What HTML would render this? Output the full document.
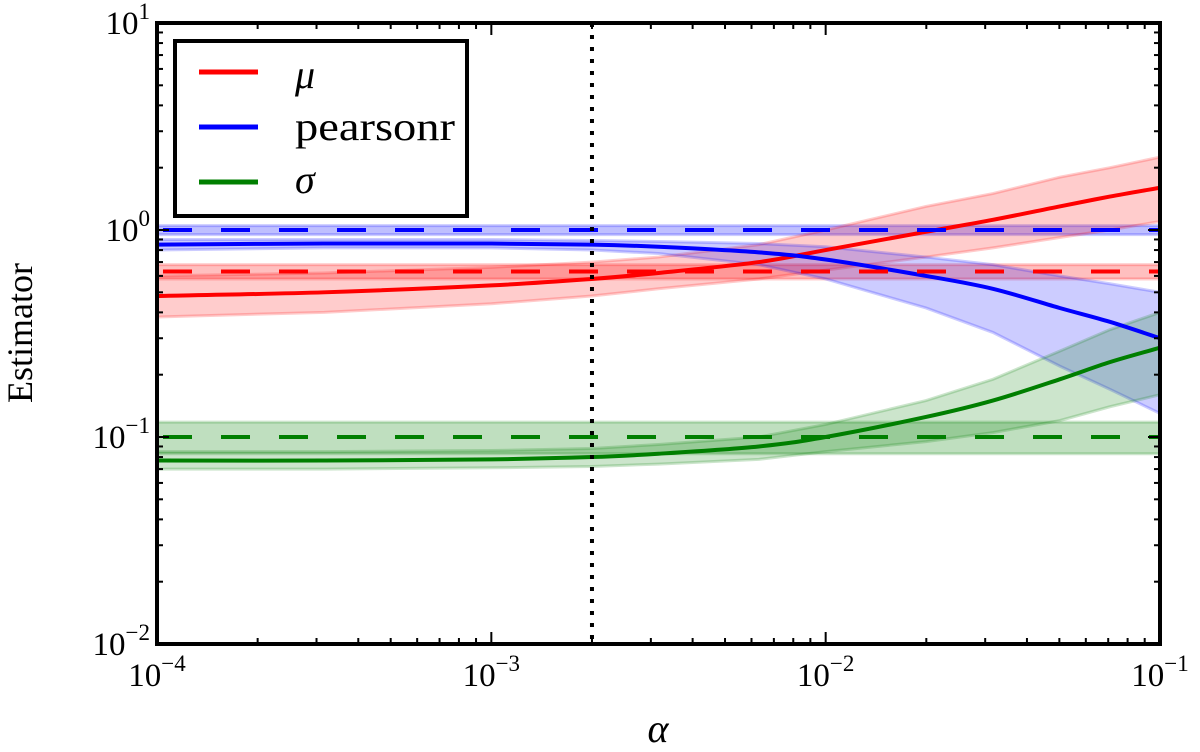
<!DOCTYPE html>
<html><head><meta charset="utf-8"><style>
body{margin:0;background:#fff}
svg text{font-family:"Liberation Serif","DejaVu Serif",serif;fill:#000}
</style></head><body>
<svg id="chart" width="1200" height="747" xmlns="http://www.w3.org/2000/svg">
<defs><clipPath id="clip"><rect x="157" y="23" width="1003" height="621"/></clipPath></defs>
<g id="plot" clip-path="url(#clip)"></g>
<g id="axes"></g>
</svg>
<script>
const logX=[-4,-3.5,-3,-2.7,-2.5,-2.2,-2,-1.7,-1.5,-1.3,-1.15,-1];
const muMid=[0.48,0.5,0.54,0.58,0.62,0.7,0.8,0.98,1.12,1.3,1.45,1.6];
const muLo=[0.38,0.4,0.44,0.48,0.52,0.58,0.64,0.74,0.82,0.92,1.0,1.1];
const muHi=[0.6,0.62,0.66,0.7,0.74,0.85,1.0,1.3,1.5,1.8,2.0,2.25];
const prMid=[0.85,0.86,0.86,0.85,0.83,0.78,0.72,0.6,0.52,0.42,0.36,0.3];
const prLo=[0.8,0.82,0.82,0.8,0.77,0.68,0.58,0.42,0.32,0.22,0.17,0.13];
const prHi=[0.9,0.9,0.9,0.89,0.88,0.86,0.83,0.74,0.68,0.6,0.55,0.5];
const sgMid=[0.077,0.077,0.078,0.08,0.083,0.09,0.1,0.125,0.15,0.19,0.23,0.27];
const sgLo=[0.07,0.07,0.071,0.072,0.074,0.078,0.085,0.095,0.105,0.12,0.14,0.16];
const sgHi=[0.085,0.085,0.086,0.088,0.092,0.1,0.115,0.15,0.19,0.26,0.33,0.4];
const truth=[{v:1.0,lo:0.95,hi:1.05,c:"#0000ff"},{v:0.63,lo:0.58,hi:0.68,c:"#ff0000"},{v:0.1,lo:0.083,hi:0.118,c:"#007f00"}];
const alphaLine=0.002;
const xTicks=[-4,-3,-2,-1];
const yTicks=[-2,-1,0,1];

const X0=157,X1=1160,Y0=23,Y1=644;
const sx=l=>X0+(l+4)/3*(X1-X0);
const sy=v=>Y1-(Math.log10(v)+2)/3*(Y1-Y0);
const NS="http://www.w3.org/2000/svg";
const plot=document.getElementById('plot'),axes=document.getElementById('axes');
function mk(p,t,a){const e=document.createElementNS(NS,t);for(const k in a)e.setAttribute(k,a[k]);p.appendChild(e);return e;}
function smooth(vals){
 const pts=logX.map((l,i)=>[sx(l),sy(vals[i])]);
 let d="M"+pts[0][0]+","+pts[0][1];
 for(let i=0;i<pts.length-1;i++){
  const p0=pts[Math.max(0,i-1)],p1=pts[i],p2=pts[i+1],p3=pts[Math.min(pts.length-1,i+2)];
  const c1=[p1[0]+(p2[0]-p0[0])/6,p1[1]+(p2[1]-p0[1])/6],c2=[p2[0]-(p3[0]-p1[0])/6,p2[1]-(p3[1]-p1[1])/6];
  d+="C"+c1+" "+c2+" "+p2;
 }
 return d;
}
function band(lo,hi,c,name){
 let d="M"+logX.map((l,i)=>sx(l)+","+sy(hi[i])).join("L")+"L"+logX.map((l,i)=>sx(l)+","+sy(lo[i])).reverse().join("L")+"Z";
 const e=mk(plot,"path",{d:d,fill:c,"fill-opacity":0.2,stroke:c,"stroke-opacity":0.2,"stroke-width":3});
 
 
}
function line(vals,c,name){
 const e=mk(plot,"path",{d:smooth(vals),fill:"none",stroke:c,"stroke-width":4});
 
 
}
truth.forEach(t=>{
 const r=mk(plot,"rect",{x:X0,y:sy(t.hi),width:X1-X0,height:sy(t.lo)-sy(t.hi),fill:t.c,"fill-opacity":0.25,stroke:t.c,"stroke-opacity":0.2,"stroke-width":3});
 
 
});
band(muLo,muHi,"#ff0000","mu-band");
band(prLo,prHi,"#0000ff","pearsonr-band");
band(sgLo,sgHi,"#007f00","sigma-band");
line(muMid,"#ff0000","mu-line");
line(prMid,"#0000ff","pearsonr-line");
line(sgMid,"#007f00","sigma-line");
truth.forEach(t=>{
 const l=mk(plot,"line",{x1:X0,x2:X1,y1:sy(t.v),y2:sy(t.v),stroke:t.c,"stroke-width":4,"stroke-dasharray":"29,29","stroke-dashoffset":"-6"});
 
 
});
const ax=sx(Math.log10(alphaLine));
const vl=mk(plot,"line",{x1:ax,x2:ax,y1:Y0,y2:Y1,stroke:"#000","stroke-width":4,"stroke-dasharray":"4,8"});


for(let d=-4;d<-1;d++)for(let m=1;m<10;m++){const x=sx(d+Math.log10(m));const L=m==1?12:6;
 mk(axes,"line",{x1:x,x2:x,y1:Y1,y2:Y1-L,stroke:"#000","stroke-width":2});mk(axes,"line",{x1:x,x2:x,y1:Y0,y2:Y0+L,stroke:"#000","stroke-width":2});}
for(let d=-2;d<1;d++)for(let m=1;m<10;m++){const y=sy(Math.pow(10,d)*m);const L=m==1?12:6;
 mk(axes,"line",{x1:X0,x2:X0+L,y1:y,y2:y,stroke:"#000","stroke-width":2});mk(axes,"line",{x1:X1,x2:X1-L,y1:y,y2:y,stroke:"#000","stroke-width":2});}
const fr=mk(axes,"rect",{x:X0,y:Y0,width:X1-X0,height:Y1-Y0,fill:"none",stroke:"#000","stroke-width":4});


xTicks.forEach(t=>{const e=mk(axes,"text",{x:sx(t),y:686,"text-anchor":"middle","font-size":33});
 
 
 e.innerHTML='10<tspan dy="-15" font-size="23">\u2212'+(-t)+'</tspan>';});
yTicks.forEach(t=>{const e=mk(axes,"text",{x:150,y:sy(Math.pow(10,t))+11,"text-anchor":"end","font-size":33});
 
 
 e.innerHTML='10<tspan dy="-15" font-size="23">'+(t<0?'\u2212'+(-t):t)+'</tspan>';});
</script>
<svg style="position:absolute;left:0;top:0" width="1200" height="747" xmlns="http://www.w3.org/2000/svg">
<text x="658" y="742" text-anchor="middle" font-size="40" font-style="italic">α</text>
<text x="0" y="0" transform="translate(32,333) rotate(-90)" text-anchor="middle" font-size="36">Estimator</text>
<g>
<rect x="175" y="41" width="292" height="175" fill="#fff" stroke="#000" stroke-width="4"/>
<line x1="199" x2="258" y1="72" y2="72" stroke="#ff0000" stroke-width="5"/>
<line x1="199" x2="258" y1="127" y2="127" stroke="#0000ff" stroke-width="5"/>
<line x1="199" x2="258" y1="182" y2="182" stroke="#007f00" stroke-width="5"/>
<text x="295" y="88" font-size="40" font-style="italic">μ</text>
<text x="295" y="140" font-size="40" textLength="160" lengthAdjust="spacingAndGlyphs">pearsonr</text>
<text x="295" y="193" font-size="40" font-style="italic">σ</text>
</g>
</svg>
</body></html>
